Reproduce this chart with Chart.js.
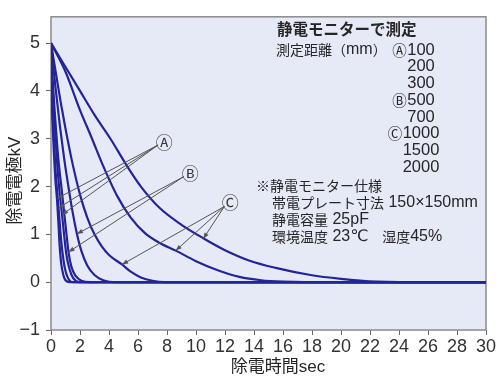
<!DOCTYPE html>
<html><head><meta charset="utf-8">
<script src="https://cdn.jsdelivr.net/npm/chart.js@4.4.0/dist/chart.umd.min.js"></script>
<style>html,body{margin:0;padding:0;background:#fff}canvas{display:block}</style>
</head><body>
<canvas id="c" width="500" height="378"></canvas>
<script>
// ---- data ----
const X_TICKS = [0,2,4,6,8,10,12,14,16,18,20,22,24,26,28,30];
const Y_TICKS = [-1,0,1,2,3,4,5];
const SERIES_NAMES = ['100','200','300','500','700','1000','1500','2000'];

const t100 = [0,0.1,0.2,0.3,0.41,0.5,0.6,0.7,0.85,1.0,1.3,30];
const v100 = [4.15,3.4,2.7,2.15,1.75,1.3,0.75,0.4,0.15,0.04,0,0];
const t200 = [0,0.15,0.3,0.42,0.52,0.65,0.8,0.95,1.15,1.5,30];
const v200 = [4.2,3.3,2.4,1.9,1.55,1.05,0.6,0.3,0.1,0,0];
const t300 = [0,0.2,0.4,0.6,0.76,0.9,1.05,1.25,1.5,2.0,30];
const v300 = [4.7,3.6,2.6,1.85,1.41,1.0,0.6,0.3,0.1,0,0];
const t500 = [0,0.25,0.5,0.75,1.0,1.21,1.4,1.7,2.1,2.7,30];
const v500 = [4.75,3.6,2.6,1.9,1.2,0.63,0.33,0.13,0.03,0,0];
const t700 = [0,0.3,0.6,0.9,1.2,1.5,1.79,2.1,2.5,3.0,3.6,4.5,30];
const v700 = [5,4.1,3.3,2.6,2.0,1.45,1.01,0.65,0.35,0.15,0.04,0,0];
const t1000 = [0,0.76,1.4,2.02,2.5,3.0,3.5,4.0,4.9,5.5,6.2,7.0,7.8,30];
const v1000 = [5,3.61,2.6,1.81,1.35,1.0,0.75,0.57,0.37,0.22,0.1,0.03,0,0];
const t1500 = [0,1,2,2.83,3.5,4.55,5.5,6.5,7.5,8.6,10,11.5,13,14.5,16,17.5,30];
const v1500 = [5,4.4,3.6,3.0,2.5,1.81,1.35,1.02,0.82,0.66,0.44,0.25,0.11,0.04,0.01,0,0];
const t2000 = [0,1,2,3,4.1,5.2,6.2,7.5,9,10.5,12,13.7,15.5,17.9,20,22.5,24,30];
const v2000 = [5,4.5,4.0,3.5,3.0,2.45,2.0,1.55,1.2,0.92,0.67,0.45,0.3,0.15,0.07,0.01,0,0];

const SERIES_T = [t100,t200,t300,t500,t700,t1000,t1500,t2000];
const SERIES_V = [v100,v200,v300,v500,v700,v1000,v1500,v2000];

// callouts (data coordinates)
const CALLOUT_MARKS = ['Ⓐ','Ⓑ','Ⓒ'];
const CALLOUT_AT = [[7.81,2.95],[9.61,2.29],[12.37,1.68]];
const CALLOUT_TIPS = [
  [[0.41,1.75],[0.52,1.55],[0.76,1.41]],
  [[1.79,1.01],[1.21,0.63]],
  [[10.5,0.91],[8.6,0.66],[4.9,0.37]]
];

// notes
const NOTE_TITLE = '静電モニターで測定';
const DIST_LABEL = '測定距離（mm）';
const DIST_MARKS = ['Ⓐ','','','Ⓑ','','Ⓒ','',''];
const SPEC_LINES = ['※静電モニター仕様','帯電プレート寸法 150×150mm','静電容量 25pF','環境温度 23℃　湿度45%'];
const X_TITLE = '除電時間sec';
const Y_TITLE = '除電電極kV';

// ---- style ----
const LINE_COLOR = '#23249a';
const PLOT_BG = '#e6e9f6';
const FRAME = '#8a8a8a';
const TEXT = '#262626';
const TICK_FONT = {family:"'Liberation Sans Narrow','Liberation Sans',Arial,sans-serif", size:18};
const TITLE_FONT = {family:"'Liberation Sans','Noto Sans CJK JP',sans-serif", size:17};

function isWide(ch){ return ch !== '\u2103' && /[\u2000-\u206f\u2100-\u214f\u2460-\u24ff\u3000-\u30ff\u4e00-\u9fff\uff00-\uffef]/.test(ch); }
function drawMixed(ctx, text, x, y, o){
  const runs=[]; let cur=null;
  for (const ch of text){ const w=isWide(ch); if(!cur||cur.w!==w){cur={w:w,s:''};runs.push(cur);} cur.s+=ch; }
  const fontFor = r => (o.weight||'normal')+' '+(r.w?o.cjk:o.lat)+'px '+(r.w?"'Noto Sans CJK JP'":"'Liberation Sans', 'DejaVu Sans'")+', sans-serif';
  let total=0;
  runs.forEach(r=>{ctx.font=fontFor(r); r.width=ctx.measureText(r.s).width; total+=r.width;});
  let cx = o.align==='right'? x-total : (o.align==='center'? x-total/2 : x);
  ctx.textBaseline='middle'; ctx.textAlign='left'; ctx.fillStyle=o.color||TEXT;
  runs.forEach(r=>{ctx.font=fontFor(r); ctx.fillText(r.s,cx,y); cx+=r.width;});
  return total;
}

const decor = {
  id:'decor',
  beforeDraw(chart){
    const {ctx, chartArea:a} = chart;
    ctx.save();
    ctx.fillStyle='#fff'; ctx.fillRect(0,0,chart.width,chart.height);
    ctx.fillStyle=PLOT_BG; ctx.fillRect(a.left,a.top,a.right-a.left,a.bottom-a.top);
    ctx.restore();
  },
  beforeDatasetsDraw(chart){
    const {ctx, chartArea:a} = chart;
    ctx.save();
    ctx.strokeStyle=FRAME; ctx.lineWidth=1.5;
    ctx.strokeRect(a.left,a.top,a.right-a.left,a.bottom-a.top);
    ctx.restore();
  },
  afterDatasetsDraw(chart){
    const {ctx} = chart;
    const xs=chart.scales.x, ys=chart.scales.y;
    ctx.save();
    // callouts
    CALLOUT_MARKS.forEach((m,i)=>{
      const cx=xs.getPixelForValue(CALLOUT_AT[i][0]), cy=ys.getPixelForValue(CALLOUT_AT[i][1]);
      const tips=CALLOUT_TIPS[i].map(p=>[xs.getPixelForValue(p[0]), ys.getPixelForValue(p[1])]);
      let mx=0,my=0; tips.forEach(p=>{mx+=p[0];my+=p[1];}); mx/=tips.length; my/=tips.length;
      const d=Math.hypot(mx-cx,my-cy); const ox=cx+(mx-cx)/d*7.5, oy=cy+(my-cy)/d*7.5;
      ctx.strokeStyle='#555'; ctx.fillStyle='#555'; ctx.lineWidth=1;
      tips.forEach(p=>{
        ctx.beginPath(); ctx.moveTo(ox,oy); ctx.lineTo(p[0],p[1]); ctx.stroke();
        const ang=Math.atan2(p[1]-oy,p[0]-ox), L=6, W=2.3;
        ctx.beginPath(); ctx.moveTo(p[0],p[1]);
        ctx.lineTo(p[0]-L*Math.cos(ang)+W*Math.sin(ang), p[1]-L*Math.sin(ang)-W*Math.cos(ang));
        ctx.lineTo(p[0]-L*Math.cos(ang)-W*Math.sin(ang), p[1]-L*Math.sin(ang)+W*Math.cos(ang));
        ctx.closePath(); ctx.fill();
      });
      ctx.font="17px 'Noto Sans CJK JP', sans-serif"; ctx.textAlign='center'; ctx.textBaseline='middle';
      ctx.fillStyle='#3a3a3a'; ctx.fillText(m,cx,cy+1);
    });
    // notes
    drawMixed(ctx, NOTE_TITLE, 277, 29, {cjk:15.5, lat:16, weight:'bold'});
    drawMixed(ctx, DIST_LABEL, 276, 50, {cjk:14, lat:16});
    SERIES_NAMES.forEach((n,i)=>{
      const y=50+i*16.75;
      ctx.font="16.5px 'Liberation Sans', sans-serif";
      const w=ctx.measureText(n).width;
      drawMixed(ctx, n, 421, y, {cjk:14, lat:16.5, align:'center'});
      if (DIST_MARKS[i]) drawMixed(ctx, DIST_MARKS[i], 421-w/2-0.5, y, {cjk:14.5, lat:16, align:'right'});
    });
    drawMixed(ctx, SPEC_LINES[0], 256, 186, {cjk:14, lat:16});
    for (let i=1;i<SPEC_LINES.length;i++) drawMixed(ctx, SPEC_LINES[i], 272, 186+i*17, {cjk:14, lat:16});
    ctx.restore();
  }
};

const datasets = SERIES_NAMES.map((n,i)=>({
  label: n+'mm',
  data: SERIES_T[i].map((t,k)=>({x:t, y:SERIES_V[i][k]})),
  borderColor: LINE_COLOR, borderWidth: 2.2, pointRadius: 0,
  cubicInterpolationMode: 'monotone', fill: false, showLine: true
}));

new Chart(document.getElementById('c'), {
  type: 'scatter',
  data: { datasets },
  options: {
    responsive: false, animation: false, devicePixelRatio: 1,
    layout: { padding: { left: 0, right: 14, top: 2.5, bottom: 0 } },
    plugins: { legend: {display:false}, tooltip: {enabled:false} },
    scales: {
      x: {
        type: 'linear', position: 'bottom', min: 0, max: 30,
        afterBuildTicks: s => { s.ticks = X_TICKS.map(v=>({value:v})); },
        afterFit: s => { s.height = 48; },
        ticks: { font: TICK_FONT, color: '#333', padding: 1, maxRotation: 0, autoSkip: false },
        grid: { drawOnChartArea: false, drawTicks: true, tickLength: 5, color: '#666', lineWidth: 1 },
        border: { display: false },
        title: { display: true, text: '    ' + X_TITLE, font: TITLE_FONT, color: TEXT, padding: {top:0, bottom:0} }
      },
      y: {
        type: 'linear', position: 'left', min: -1, max: 5.55,
        afterBuildTicks: s => { s.ticks = Y_TICKS.map(v=>({value:v})); },
        afterFit: s => { s.width = 51; },
        ticks: { font: TICK_FONT, color: '#333', padding: 6, callback: v => v < 0 ? '\u2212' + Math.abs(v) : String(v) },
        grid: { drawOnChartArea: false, drawTicks: true, tickLength: 5, color: '#666', lineWidth: 1 },
        border: { display: false },
        title: { display: true, text: Y_TITLE + '   ', font: TITLE_FONT, color: TEXT, padding: {top:5, bottom:0} }
      }
    }
  },
  plugins: [decor]
});
</script>
</body></html>
